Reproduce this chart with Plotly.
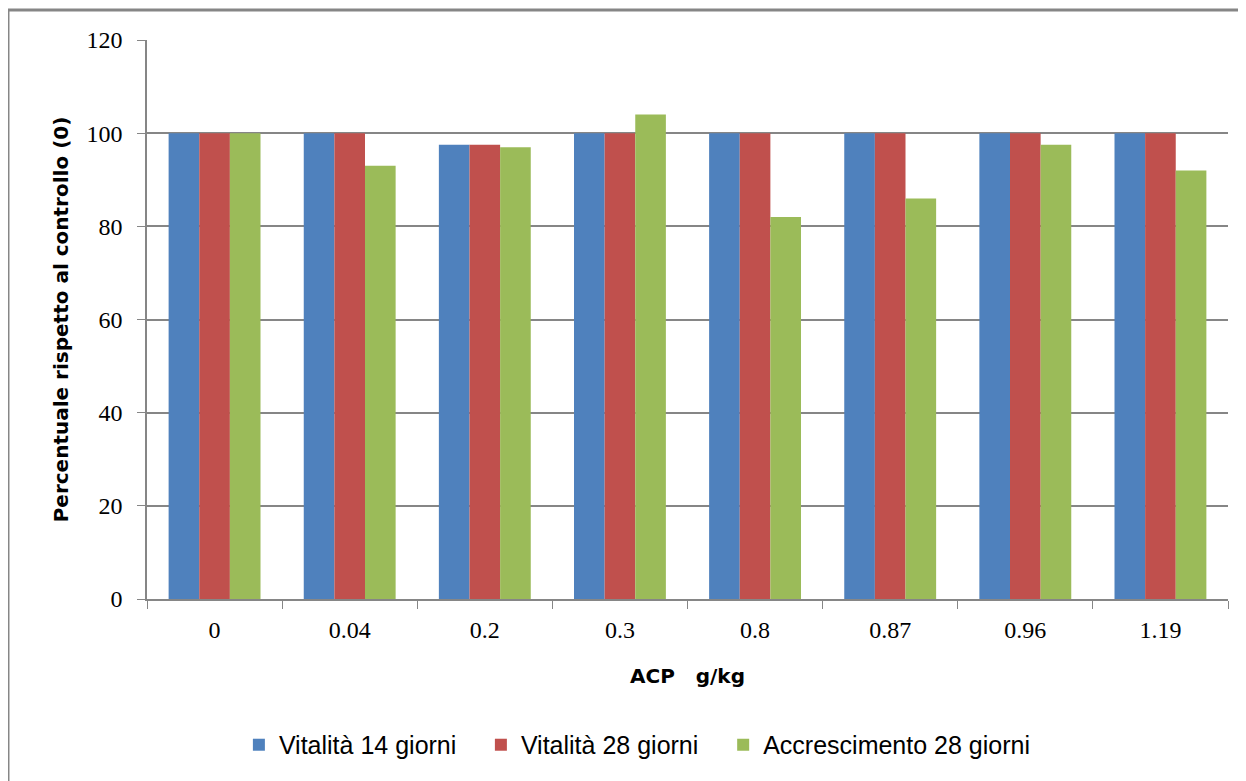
import plotly.graph_objects as go

## dati
dosi = ['0', '0.04', '0.2', '0.3', '0.8', '0.87', '0.96', '1.19']
vitalita_14 = [100, 100, 97.5, 100, 100, 100, 100, 100]
vitalita_28 = [100, 100, 97.5, 100, 100, 100, 100, 100]
accrescimento_28 = [100, 93, 97, 104, 82, 86, 97.5, 92]

serie = [('Vitalità 14 giorni', vitalita_14, '#4F81BD', 'legend'),
         ('Vitalità 28 giorni', vitalita_28, '#C0504D', 'legend'),
         ('Accrescimento 28 giorni', accrescimento_28, '#9BBB59', 'legend2')]

grigio = '#868686'
font_legenda = dict(family='Liberation Sans', size=25, color='black')

fig = go.Figure()
for nome, valori, colore, leg in serie:
    fig.add_trace(go.Bar(x=dosi, y=valori, name=nome, legend=leg,
                         marker=dict(color=colore, line=dict(width=0))))

## cornice esterna (solo lati sinistro e superiore visibili)
fig.add_shape(type='line', xref='paper', yref='paper',
              x0=-0.1286, x1=1.05, y0=1.0537, y1=1.0537,
              line=dict(color=grigio, width=3))
fig.add_shape(type='line', xref='paper', yref='paper',
              x0=-0.1286, x1=-0.1286, y0=1.0537, y1=-0.4,
              line=dict(color=grigio, width=3))

fig.update_layout(
    width=1246, height=781,
    margin=dict(l=139, r=26, t=32, b=190),
    paper_bgcolor='white', plot_bgcolor='white',
    barmode='group', bargap=0.32, bargroupgap=0,
    showlegend=True,
    legend=dict(orientation='h', x=0.085, xanchor='left', y=-0.22, yanchor='top',
                font=font_legenda, itemsizing='constant', traceorder='normal',
                itemwidth=30, entrywidth=197),
    legend2=dict(orientation='h', x=0.533, xanchor='left', y=-0.22, yanchor='top',
                 font=font_legenda, itemsizing='constant', itemwidth=30),
    xaxis=dict(
        title=dict(text='ACP\u00a0\u00a0\u00a0g/kg', standoff=27,
                   font=dict(family='DejaVu Sans', size=20, color='black', weight='bold')),
        tickfont=dict(family='Liberation Serif', size=24, color='black'),
        ticklabelstandoff=8,
        showline=True, linecolor=grigio, linewidth=1.5,
        ticks='outside', tickson='boundaries', ticklen=8, tickcolor=grigio,
        showgrid=False,
    ),
    yaxis=dict(
        title=dict(text='Percentuale rispetto al controllo (0)', standoff=12,
                   font=dict(family='DejaVu Sans', size=20, color='black', weight='bold')),
        range=[0, 120], dtick=20,
        tickfont=dict(family='Liberation Serif', size=24, color='black'),
        ticklabelstandoff=10,
        showline=True, linecolor=grigio, linewidth=1.5,
        ticks='outside', ticklen=8, tickcolor=grigio,
        showgrid=True, gridcolor=grigio, gridwidth=1.5,
        zeroline=False,
    ),
)

fig.write_html('out.html')
